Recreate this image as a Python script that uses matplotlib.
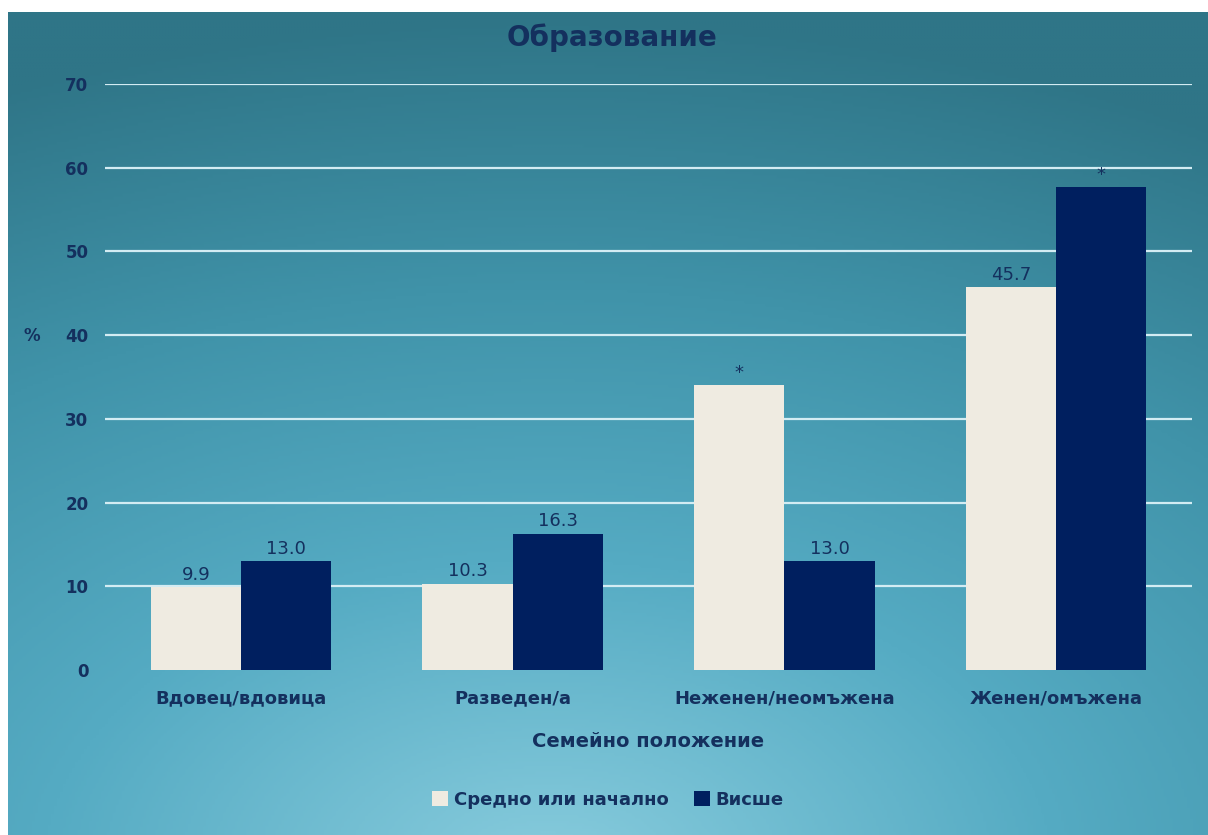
import numpy as np
import matplotlib
matplotlib.use("Agg")
import matplotlib.pyplot as plt
from matplotlib.colors import LinearSegmentedColormap

# данни
categories = ["Вдовец/вдовица", "Разведен/а", "Неженен/неомъжена", "Женен/омъжена"]
secondary = [9.9, 10.3, 34.0, 45.7]   # Средно или начално
higher = [13.0, 16.3, 13.0, 57.7]     # Висше
secondary_labels = ["9.9", "10.3", "*", "45.7"]
higher_labels = ["13.0", "16.3", "13.0", "*"]
series_names = ["Средно или начално", "Висше"]
yticks = [0, 10, 20, 30, 40, 50, 60, 70]

txt = "#14305e"
c_light = "#efebe1"
c_dark = "#001f5f"

plt.rcParams['font.family'] = ['DejaVu Sans']

W, H = 1208, 835
fig = plt.figure(figsize=(W / 100, H / 100), dpi=100, facecolor="white")

# фон - радиален градиент
bg = fig.add_axes([8 / W, 0, 1 - 8 / W, 1 - 12 / H], zorder=0)
gx, gy = np.meshgrid(np.linspace(0, 1, 400), np.linspace(0, 1, 300))
d = np.sqrt(((gx - 0.45) * 1.0) ** 2 + ((gy - 1.05) * 1.1) ** 2)
d = np.clip(d / 1.15, 0, 1)
cmap = LinearSegmentedColormap.from_list("bg", ["#82c8da", "#55abc3", "#4093a9", "#2f7587"])
bg.imshow(d, cmap=cmap, aspect="auto", extent=[0, 1, 0, 1], origin="upper")
bg.set_axis_off()

ax = fig.add_axes([105 / W, 1 - 670 / H, (1192 - 105) / W, (670 - 84) / H], zorder=1)
ax.patch.set_alpha(0)

x = np.arange(len(categories))
w = 0.332
b1 = ax.bar(x - w / 2, secondary, w, color=c_light, label=series_names[0], zorder=3)
b2 = ax.bar(x + w / 2, higher, w, color=c_dark, label=series_names[1], zorder=3)

for bars, labels in ((b1, secondary_labels), (b2, higher_labels)):
    for rect, lab in zip(bars, labels):
        ax.text(rect.get_x() + rect.get_width() / 2, rect.get_height() + 0.4, lab,
                ha="center", va="bottom", fontsize=13, color=txt, zorder=4)

ax.set_xlim(-0.5, 3.5)
ax.set_ylim(0, 70)
ax.set_yticks(yticks)
ax.yaxis.grid(True, color="#d3ecf3", linewidth=1.6, zorder=1)
ax.get_ygridlines()[0].set_visible(False)
ax.set_axisbelow(True)
ax.tick_params(axis="y", length=0, pad=12, labelsize=12, labelcolor=txt)
for t in ax.get_yticklabels():
    t.set_fontweight("bold")
ax.set_xticks(x)
ax.set_xticklabels(categories, fontsize=13, color=txt, fontweight="bold")
ax.tick_params(axis="x", length=0, pad=14)
for s in ax.spines.values():
    s.set_visible(False)

ax.set_xlabel("Семейно положение", fontsize=14, color=txt, fontweight="bold", labelpad=18)
fig.text(32 / W, 1 - 336 / H, "%", fontsize=12, color=txt, fontweight="bold",
         ha="center", va="center")
fig.text(612 / W, 1 - 38 / H, "Образование", fontsize=20, color=txt, fontweight="bold",
         ha="center", va="center")

leg = fig.legend(loc="center", bbox_to_anchor=(0.503, 1 - 800 / H), ncol=2, frameon=False,
                 handlelength=0.9, handleheight=0.9, handletextpad=0.3, columnspacing=1.4,
                 fontsize=13)
for t in leg.get_texts():
    t.set_color(txt)
    t.set_fontweight("bold")

fig.savefig("out.png", dpi=100, facecolor="white")
